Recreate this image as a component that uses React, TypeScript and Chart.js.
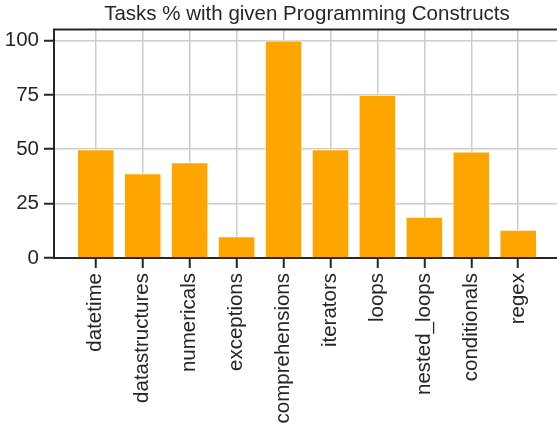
import React, { useEffect, useRef } from "react";
import { Chart, registerables } from "chart.js";
Chart.register(...registerables);

const categories = [
  "datetime",
  "datastructures",
  "numericals",
  "exceptions",
  "comprehensions",
  "iterators",
  "loops",
  "nested_loops",
  "conditionals",
  "regex",
];
const percentages = [50, 39, 44, 10, 100, 50, 75, 19, 49, 13];
const titleText = "Tasks % with given Programming Constructs";

const TEXT = "#262626";
const FONT = { family: "'Liberation Sans', Arial, sans-serif", size: 20.5 };

export default function App() {
  const ref = useRef<HTMLCanvasElement>(null);
  useEffect(() => {
    if (!ref.current) return;
    const topBorder = {
      id: "topBorder",
      afterDraw(chart: any) {
        const { ctx, chartArea } = chart;
        ctx.save();
        ctx.strokeStyle = TEXT;
        ctx.lineWidth = 2;
        ctx.beginPath();
        ctx.moveTo(chartArea.left - 1, chartArea.top);
        ctx.lineTo(chartArea.right, chartArea.top);
        ctx.stroke();
        ctx.restore();
      },
    };
    const chart = new Chart(ref.current, {
      type: "bar",
      data: {
        datasets: [
          {
            data: categories.map((_, i) => ({ x: i, y: percentages[i] })),
            backgroundColor: "#ffa500",
            borderColor: "#ffffff",
            borderWidth: 1,
            barPercentage: 0.8,
            categoryPercentage: 1,
          },
        ],
      },
      options: {
        animation: false,
        responsive: false,
        maintainAspectRatio: false,
        layout: { padding: 0 },
        plugins: {
          legend: { display: false },
          tooltip: { enabled: false },
          title: {
            display: true,
            text: titleText,
            color: TEXT,
            font: { ...FONT, weight: "normal" },
            padding: { top: 2, bottom: 3 },
            fullSize: false,
          },
        },
        scales: {
          x: {
            type: "linear",
            offset: false,
            min: -0.89,
            max: 9.89,
            afterBuildTicks: (s: any) => {
              s.ticks = categories.map((_, i) => ({ value: i }));
            },
            afterFit: (s: any) => {
              s.height = 168;
            },
            ticks: {
              callback: (v: any) => categories[v],
              minRotation: 90,
              maxRotation: 90,
              autoSkip: false,
              padding: 5,
              color: TEXT,
              font: FONT,
            },
            grid: {
              offset: false,
              color: "#cccccc",
              lineWidth: 1.5,
              tickLength: 10,
              tickColor: TEXT,
              tickWidth: 2,
            },
            border: { color: TEXT, width: 2 },
          },
          y: {
            min: 0,
            max: 105,
            afterFit: (s: any) => {
              s.width = 54;
            },
            ticks: {
              stepSize: 25,
              includeBounds: false,
              padding: 5,
              color: TEXT,
              font: FONT,
            },
            grid: {
              color: "#cccccc",
              lineWidth: 1.5,
              tickLength: 10,
              tickColor: TEXT,
              tickWidth: 2,
            },
            border: { color: TEXT, width: 2 },
          },
        },
      } as any,
      plugins: [topBorder],
    });
    return () => chart.destroy();
  }, []);
  return (
    <canvas
      ref={ref}
      width={560}
      height={426}
      style={{ position: "fixed", left: 0, top: 0, width: 560, height: 426 }}
    />
  );
}
